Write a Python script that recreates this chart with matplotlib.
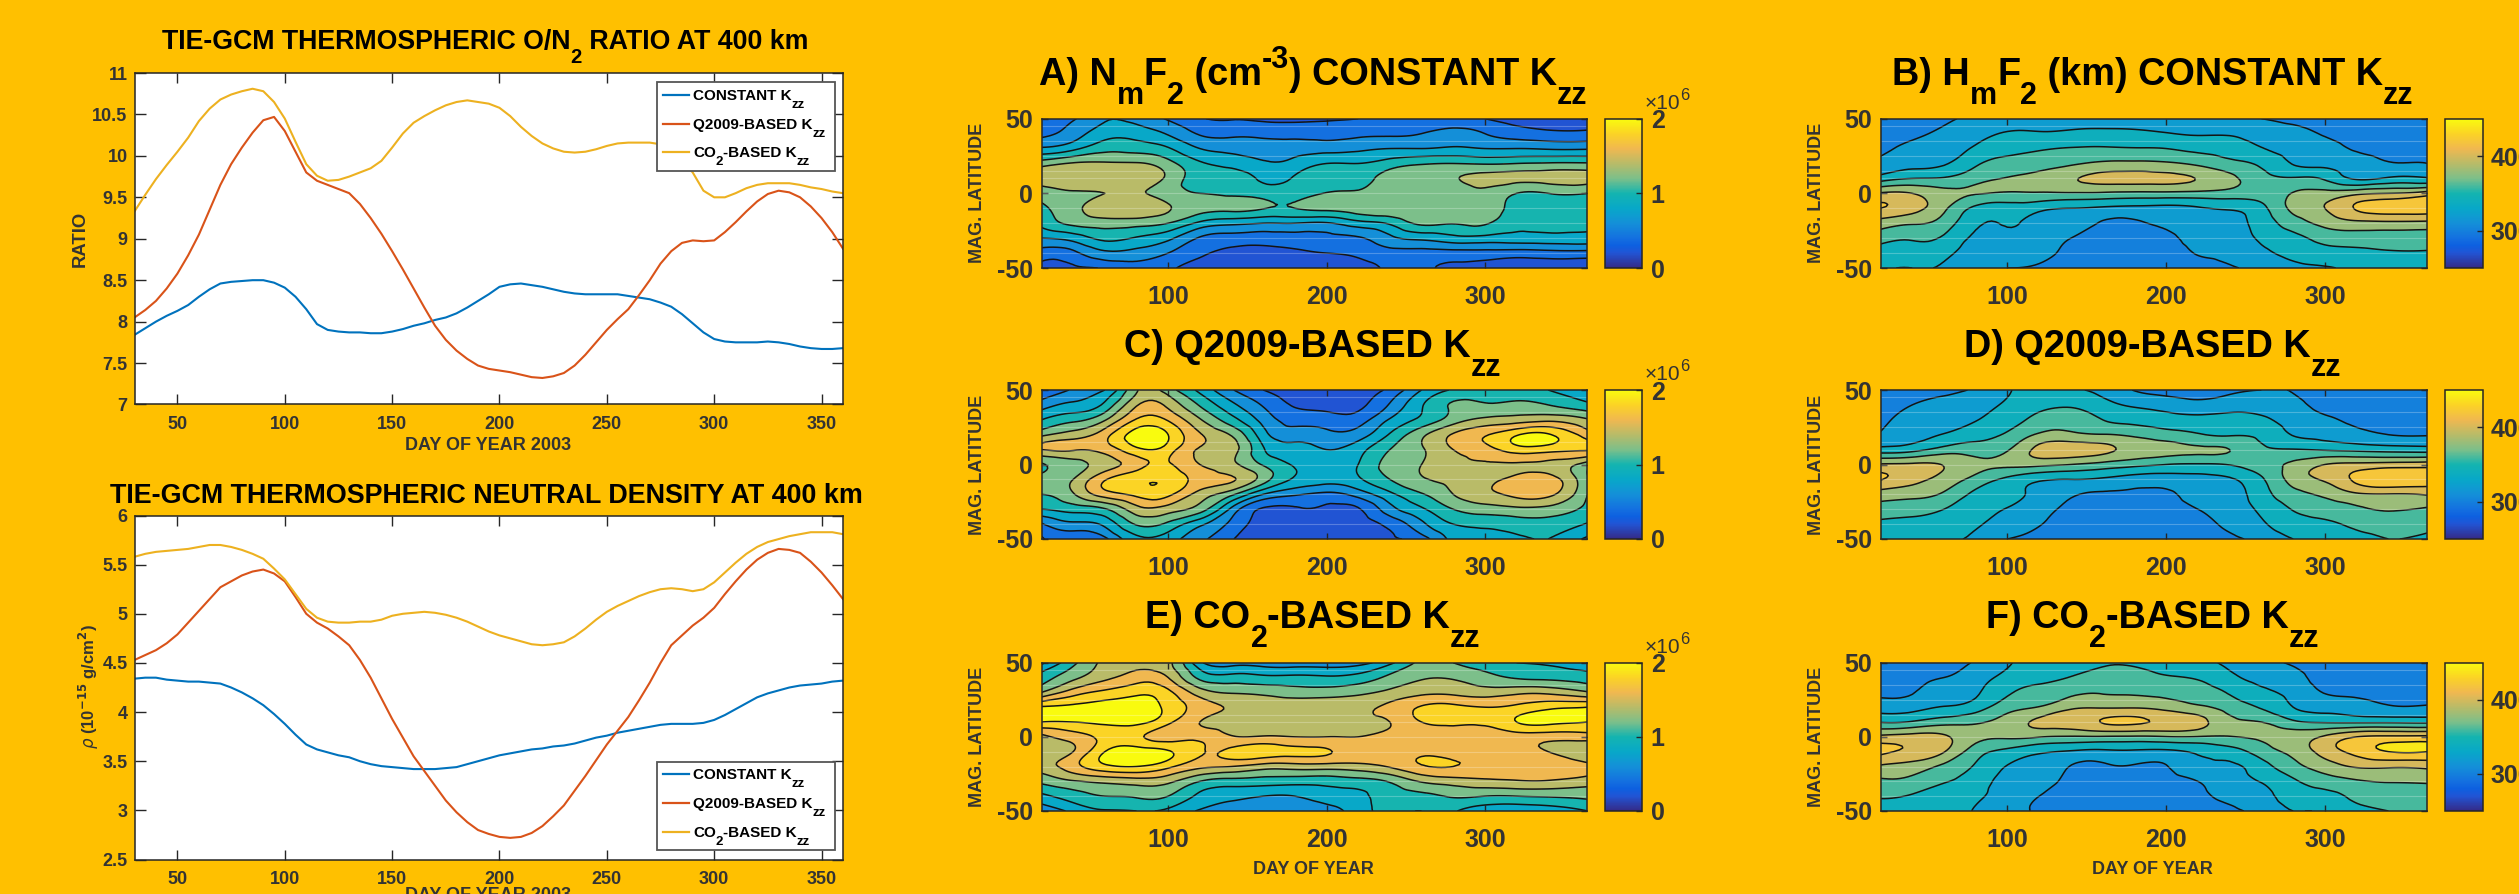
import numpy as np
import matplotlib
matplotlib.use("Agg")
import matplotlib.pyplot as plt
from matplotlib.colors import LinearSegmentedColormap, Normalize
from matplotlib.cm import ScalarMappable
from matplotlib.lines import Line2D
from matplotlib.patches import Rectangle
from matplotlib.transforms import IdentityTransform
from matplotlib.tri import Triangulation, UniformTriRefiner

W, H = 2519, 894
BG = "#FFC000"
INK = "#333333"
FONT = ["Liberation Sans", "DejaVu Sans"]

# ------- line data -------
line_days = [30,35,40,45,50,55,60,65,70,75,80,85,90,95,100,105,110,115,120,125,130,135,140,145,150,155,160,165,170,175,180,185,190,195,200,205,210,215,220,225,230,235,240,245,250,255,260,265,270,275,280,285,290,295,300,305,310,315,320,325,330,335,340,345,350,355,360]
on2_constant = [7.84,7.92,8.0,8.07,8.13,8.2,8.3,8.39,8.46,8.48,8.49,8.5,8.5,8.47,8.41,8.3,8.15,7.97,7.9,7.88,7.87,7.87,7.86,7.86,7.88,7.91,7.95,7.98,8.02,8.05,8.1,8.17,8.25,8.33,8.42,8.45,8.46,8.44,8.42,8.39,8.36,8.34,8.33,8.33,8.33,8.33,8.31,8.29,8.27,8.23,8.18,8.09,7.98,7.87,7.79,7.76,7.75,7.75,7.75,7.76,7.75,7.73,7.7,7.68,7.67,7.67,7.68]
on2_q2009 = [8.05,8.14,8.25,8.4,8.58,8.8,9.05,9.35,9.65,9.9,10.1,10.28,10.43,10.47,10.3,10.05,9.8,9.7,9.65,9.6,9.55,9.42,9.25,9.06,8.85,8.63,8.4,8.17,7.95,7.78,7.65,7.55,7.47,7.43,7.41,7.39,7.36,7.33,7.32,7.34,7.38,7.47,7.6,7.75,7.9,8.03,8.15,8.32,8.5,8.7,8.85,8.95,8.98,8.97,8.98,9.08,9.2,9.33,9.45,9.54,9.58,9.56,9.5,9.39,9.25,9.08,8.88]
on2_co2 = [9.33,9.53,9.72,9.89,10.05,10.22,10.42,10.57,10.68,10.74,10.78,10.81,10.78,10.65,10.45,10.17,9.9,9.76,9.7,9.71,9.75,9.8,9.85,9.94,10.1,10.27,10.4,10.48,10.55,10.61,10.65,10.67,10.65,10.63,10.58,10.48,10.35,10.24,10.15,10.09,10.05,10.04,10.05,10.08,10.12,10.15,10.16,10.16,10.16,10.14,10.08,9.95,9.8,9.58,9.5,9.5,9.55,9.61,9.65,9.67,9.67,9.67,9.65,9.62,9.6,9.57,9.55]
rho_constant = [4.34,4.35,4.35,4.33,4.32,4.31,4.31,4.3,4.29,4.25,4.2,4.14,4.07,3.98,3.88,3.77,3.67,3.62,3.59,3.56,3.54,3.5,3.47,3.45,3.44,3.43,3.42,3.42,3.42,3.43,3.44,3.47,3.5,3.53,3.56,3.58,3.6,3.62,3.63,3.65,3.66,3.68,3.71,3.74,3.76,3.79,3.81,3.83,3.85,3.87,3.88,3.88,3.88,3.89,3.92,3.97,4.03,4.09,4.15,4.19,4.22,4.25,4.27,4.28,4.29,4.31,4.32]
rho_q2009 = [4.53,4.58,4.63,4.7,4.79,4.91,5.03,5.15,5.27,5.33,5.39,5.43,5.45,5.41,5.33,5.17,5.0,4.91,4.85,4.77,4.68,4.53,4.35,4.14,3.93,3.74,3.55,3.4,3.25,3.1,2.98,2.88,2.8,2.76,2.73,2.72,2.73,2.77,2.84,2.94,3.05,3.2,3.35,3.51,3.67,3.81,3.95,4.12,4.3,4.5,4.68,4.78,4.88,4.96,5.06,5.2,5.33,5.45,5.55,5.62,5.66,5.65,5.62,5.53,5.42,5.29,5.15]
rho_co2 = [5.58,5.61,5.63,5.64,5.65,5.66,5.68,5.7,5.7,5.68,5.65,5.61,5.56,5.46,5.35,5.2,5.05,4.96,4.92,4.91,4.91,4.92,4.92,4.94,4.98,5.0,5.01,5.02,5.01,4.99,4.96,4.92,4.87,4.82,4.78,4.75,4.72,4.69,4.68,4.69,4.71,4.77,4.85,4.94,5.02,5.08,5.13,5.18,5.22,5.25,5.26,5.25,5.23,5.25,5.32,5.42,5.52,5.61,5.68,5.73,5.76,5.79,5.81,5.83,5.83,5.83,5.81]

# ------- contour grids: one row per day, values from lat 50 down to lat -50 -------
grid_days = [20,40,60,80,100,120,140,160,180,200,220,240,260,280,300,320,340,365]
grid_lats = [50,40,30,20,10,0,-10,-20,-30,-40,-50]

nmf2_constant = [
 [.45,.55,.83,1.31,1.5,1.3,1.15,1.05,.8,.5,.35],
 [.58,.7,.95,1.42,1.55,1.38,1.35,1.25,.88,.55,.37],
 [.78,.92,1.13,1.43,1.55,1.40,1.5,1.3,1.05,.75,.42],
 [.72,.92,1.12,1.42,1.55,1.42,1.55,1.28,.98,.72,.55],
 [.58,.78,1.02,1.27,1.35,1.3,1.42,1.2,.85,.6,.45],
 [.42,.58,.8,1.03,1.12,1.2,1.27,.95,.58,.44,.28],
 [.39,.55,.74,.93,1.1,1.17,1.25,.85,.52,.33,.27],
 [.36,.55,.7,.83,.97,1.12,1.21,.8,.5,.31,.24],
 [.36,.53,.72,.87,1.02,1.1,1.2,.8,.53,.35,.25],
 [.38,.52,.72,1.0,1.12,1.21,1.25,.78,.55,.4,.27],
 [.40,.56,.75,1.0,1.13,1.23,1.3,.92,.58,.44,.33],
 [.44,.57,.8,1.1,1.27,1.3,1.35,1.03,.75,.52,.42],
 [.46,.6,.8,1.18,1.3,1.32,1.35,1.24,.85,.52,.42],
 [.45,.67,.83,1.2,1.38,1.33,1.32,1.21,.93,.52,.38],
 [.40,.6,.8,1.18,1.45,1.35,1.3,1.22,.93,.52,.35],
 [.33,.5,.8,1.2,1.45,1.2,1.13,1.05,.92,.5,.32],
 [.3,.45,.78,1.22,1.47,1.2,1.12,1.05,.93,.52,.32],
 [.31,.45,.78,1.22,1.47,1.2,1.12,1.05,.93,.52,.32],
]
nmf2_q2009 = [
 [.45,.7,1.0,1.35,1.6,1.18,1.25,1.2,1.0,.58,.38],
 [.62,.85,1.15,1.5,1.62,1.32,1.4,1.38,1.08,.75,.45],
 [.8,1.05,1.38,1.72,1.68,1.5,1.78,1.7,1.18,.85,.55],
 [1.38,1.58,1.82,2.1,1.95,1.72,1.95,1.85,1.52,1.22,.95],
 [1.3,1.55,1.78,2.0,1.9,1.82,1.95,1.85,1.5,1.15,.9],
 [.95,1.18,1.42,1.62,1.58,1.6,1.72,1.52,1.3,.85,.65],
 [.62,.85,1.08,1.38,1.48,1.45,1.62,1.25,.75,.55,.42],
 [.4,.58,.73,.88,1.02,1.18,1.3,.8,.38,.3,.25],
 [.3,.38,.53,.7,.87,.98,.97,.63,.38,.31,.26],
 [.27,.34,.49,.66,.8,.9,.88,.55,.36,.3,.26],
 [.3,.36,.5,.7,.92,1.0,.97,.68,.38,.31,.27],
 [.45,.62,.82,1.02,1.2,1.28,1.2,.95,.72,.46,.38],
 [.8,.98,1.05,1.35,1.38,1.4,1.38,1.18,.97,.75,.5],
 [1.02,1.22,1.3,1.62,1.6,1.55,1.45,1.4,1.2,1.0,.85],
 [1.05,1.22,1.45,1.78,1.72,1.58,1.55,1.55,1.3,1.05,.9],
 [1.05,1.25,1.5,1.98,1.9,1.58,1.65,1.65,1.35,1.1,.95],
 [1.0,1.2,1.55,2.02,1.88,1.55,1.68,1.65,1.33,1.12,1.0],
 [.85,1.05,1.42,1.7,1.82,1.3,1.22,1.2,1.15,.98,.75],
]
nmf2_co2 = [
 [.75,1.1,1.4,2.02,2.0,1.55,1.45,1.5,1.25,.95,.65],
 [1.15,1.35,1.7,2.05,2.0,1.7,1.6,1.72,1.38,1.1,.85],
 [1.45,1.55,1.85,2.1,2.05,1.85,2.0,1.95,1.45,1.2,.98],
 [1.5,1.7,1.95,2.1,2.05,1.85,2.1,2.0,1.5,1.22,1.0],
 [1.45,1.6,1.85,1.95,1.85,1.7,2.02,1.85,1.45,1.2,.95],
 [.85,1.15,1.5,1.7,1.6,1.75,1.82,1.65,1.2,.95,.78],
 [.72,1.08,1.38,1.58,1.52,1.62,1.85,1.6,1.12,.85,.7],
 [.7,1.05,1.35,1.52,1.5,1.62,1.9,1.5,1.1,.8,.68],
 [.68,1.05,1.3,1.52,1.5,1.6,1.85,1.5,1.08,.8,.68],
 [.68,1.03,1.3,1.52,1.5,1.6,1.82,1.5,1.08,.88,.72],
 [.72,1.08,1.35,1.55,1.55,1.6,1.72,1.52,1.12,.95,.9],
 [.95,1.25,1.45,1.65,1.6,1.65,1.7,1.62,1.22,1.1,1.05],
 [1.25,1.38,1.55,1.82,1.8,1.65,1.75,1.78,1.42,1.15,1.0],
 [1.2,1.38,1.55,1.85,1.85,1.7,1.72,1.8,1.5,1.22,1.02],
 [1.05,1.28,1.5,1.8,1.85,1.65,1.7,1.75,1.55,1.2,.85],
 [1.0,1.18,1.55,1.85,2.0,1.7,1.68,1.7,1.58,1.2,.85],
 [.98,1.15,1.55,1.95,2.05,1.68,1.6,1.72,1.58,1.22,.88],
 [.85,1.1,1.42,2.0,2.0,1.7,1.45,1.65,1.5,1.25,1.0],
]
hmf2_constant = [
 [305,312,316,325,350,402,420,390,368,350,342],
 [309,316,325,334,360,400,408,382,362,351,340],
 [317,324,331,338,362,386,384,371,357,346,337],
 [323,332,343,357,373,381,355,343,336,329,324],
 [328,342,354,367,381,378,350,341,335,327,320],
 [332,342,358,372,386,378,345,335,331,325,318],
 [332,344,361,377,397,378,340,331,320,315,311],
 [333,345,362,384,405,377,337,318,313,310,308],
 [332,344,361,385,406,375,335,318,313,310,307],
 [331,341,360,383,405,375,334,323,315,311,308],
 [327,338,355,376,399,374,338,332,328,321,315],
 [321,338,351,366,385,372,342,336,331,325,318],
 [320,331,341,356,368,370,354,348,343,336,326],
 [316,326,333,339,362,381,385,370,354,345,336],
 [308,318,328,335,357,387,400,386,367,352,338],
 [304,310,317,329,337,395,422,394,370,355,345],
 [304,307,312,321,343,400,430,395,370,358,350],
 [304,307,312,320,342,410,432,394,370,358,352],
]
hmf2_q2009 = [
 [303,310,316,322,348,402,421,390,372,355,345],
 [311,320,327,334,353,403,408,386,368,353,344],
 [317,325,332,341,368,399,392,377,360,350,341],
 [322,330,339,352,370,386,373,355,348,343,336],
 [338,344,352,363,378,384,355,345,339,330,320],
 [344,354,366,383,406,385,343,334,328,321,315],
 [342,357,371,385,410,380,340,322,315,311,308],
 [335,347,360,381,405,373,337,318,313,309,306],
 [319,337,354,376,393,366,331,316,311,308,306],
 [313,331,349,369,387,360,331,316,312,309,306],
 [312,326,346,362,383,358,334,328,320,314,308],
 [316,331,346,358,380,361,338,333,329,324,317],
 [320,333,343,355,365,372,357,351,344,337,326],
 [319,326,332,339,361,384,387,373,361,351,340],
 [306,314,323,333,358,400,403,384,369,356,345],
 [305,310,316,326,355,405,425,397,377,365,351],
 [304,308,313,320,352,408,437,399,381,370,360],
 [304,308,313,319,350,410,431,402,378,366,355],
]
hmf2_co2 = [
 [304,310,316,331,359,405,424,397,377,362,352],
 [312,318,319,333,362,408,416,391,374,358,349],
 [315,320,331,341,372,403,401,375,361,352,345],
 [322,331,338,350,377,386,369,358,352,345,338],
 [338,346,357,372,389,383,354,339,332,329,322],
 [346,354,366,381,404,381,343,334,329,320,318],
 [350,361,376,396,411,378,338,319,313,309,306],
 [358,368,379,398,421,378,336,317,312,308,305],
 [358,367,378,398,423,377,337,318,312,309,306],
 [353,362,375,393,417,379,336,319,313,310,307],
 [346,358,369,384,408,379,343,334,320,316,310],
 [335,345,358,372,386,379,351,336,331,324,318],
 [324,334,344,358,380,384,369,352,341,333,326],
 [318,327,334,340,364,390,386,373,357,348,340],
 [305,311,319,333,358,403,408,390,370,353,342],
 [304,309,315,329,357,420,427,402,378,365,354],
 [304,307,312,322,357,424,440,403,381,370,360],
 [304,307,312,322,356,425,440,405,382,372,365],
]

nm_levels = [-1,.2,.4,.6,.8,1.0,1.2,1.4,1.6,1.8,2.0,4.0]
hm_levels = [100,300,320,340,360,380,400,420,440,700]
seam_lats = [45,35,25,15,10,0,-10,-20,-30,-40]

cmap = LinearSegmentedColormap.from_list("warm_parula", [
    (0.0,"#352a87"),(0.1,"#2155d5"),(0.15,"#0d60e0"),(0.2,"#1470e0"),(0.3,"#1490d8"),
    (0.4,"#08a8c8"),(0.5,"#14b4b0"),(0.6,"#7cbf8a"),(0.7,"#b8bb68"),(0.8,"#f0b850"),
    (0.9,"#fbd325"),(1.0,"#f9fb0e")])

plt.rcParams["font.family"] = FONT
plt.rcParams["axes.unicode_minus"] = False
fig = plt.figure(figsize=(W/100, H/100), dpi=100, facecolor=BG)
renderer = fig.canvas.get_renderer()
ID = IdentityTransform()

def axes_px(x0, y0, x1, y1):
    return fig.add_axes([x0/W, 1-y1/H, (x1-x0)/W, (y1-y0)/H])

def text_w(s, size, weight):
    a = fig.text(0, 0, "|"+s+"|", fontsize=size, weight=weight)
    b = fig.text(0, 0, "||", fontsize=size, weight=weight)
    w = a.get_window_extent(renderer).width - b.get_window_extent(renderer).width
    a.remove(); b.remove()
    return w

def seq_text(x, y, segs, size, sub, dsub, dsup=0, color="black", align="center", weight="bold"):
    widths = [text_w(s, sub if k else size, weight) for s, k in segs]
    cur = x - sum(widths)/2 if align == "center" else x
    for (s, k), w in zip(segs, widths):
        off = {0: 0, -1: dsub, 1: dsup}[k]
        fig.text(cur, H-(y-off), s, transform=ID, fontsize=sub if k else size,
                 weight=weight, color=color, ha="left", va="baseline", zorder=6)
        cur += w

def style_axes(ax, size, xlen, ylen, xpad, ypad):
    for s in ax.spines.values():
        s.set_color("#262626"); s.set_linewidth(1.1)
    ax.tick_params(direction="in", top=True, right=True, labelsize=size, colors="#262626", labelcolor=INK, width=1,
                   pad=xpad, axis="x", length=xlen)
    ax.tick_params(direction="in", top=True, right=True, labelsize=size, colors="#262626", labelcolor=INK, width=1,
                   pad=ypad, axis="y", length=ylen)
    for lab in ax.get_xticklabels()+ax.get_yticklabels():
        lab.set_fontweight("bold")

# ------- line panels -------
LINE_COLORS = ["#0072BD", "#D95319", "#EDB120"]
def legend_box(x0, y0, x1, y1, ys):
    fig.add_artist(Rectangle((x0, H-y1), x1-x0, y1-y0, transform=ID, fc="white", ec="#555555", lw=1.3, zorder=5))
    entries = [[("CONSTANT K",0),("zz",-1)], [("Q2009-BASED K",0),("zz",-1)], [("CO",0),("2",-1),("-BASED K",0),("zz",-1)]]
    for yc, c, segs in zip(ys, LINE_COLORS, entries):
        fig.add_artist(Line2D([x0+6, x0+32], [H-yc, H-yc], transform=ID, color=c, lw=1.6, zorder=6))
        seq_text(x0+36, yc+5, segs, 11, 9.5, -8, align="left")

def line_panel(y0, y1, series, ylim, yticks, yticklabels):
    ax = axes_px(134.5, y0, 843, y1)
    for v, c in zip(series, LINE_COLORS):
        ax.plot(line_days, v, color=c, lw=1.5)
    ax.set_xlim(30, 360); ax.set_ylim(*ylim)
    ax.set_xticks([50,100,150,200,250,300,350]); ax.set_yticks(yticks); ax.set_yticklabels(yticklabels)
    style_axes(ax, 13, 7, 8, 8.5, 5)
    return ax

line_panel(73, 404.5, [on2_constant, on2_q2009, on2_co2], (7,11),
           [7,7.5,8,8.5,9,9.5,10,10.5,11], ["7","7.5","8","8.5","9","9.5","10","10.5","11"])
line_panel(515.5, 859.5, [rho_constant, rho_q2009, rho_co2], (2.5,6),
           [2.5,3,3.5,4,4.5,5,5.5,6], ["2.5","3","3.5","4","4.5","5","5.5","6"])
legend_box(657, 82, 835, 171, [95, 124, 152])
legend_box(657, 762, 835, 850, [774, 803, 832])

seq_text(485, 49, [("TIE-GCM THERMOSPHERIC O/N",0),("2",-1),(" RATIO AT 400 km",0)], 19.3, 14.5, -14)
seq_text(486, 503, [("TIE-GCM THERMOSPHERIC NEUTRAL DENSITY AT 400 km",0)], 19.4, 14, -14)
fig.text(80, H-239, "RATIO", transform=ID, rotation=90, ha="center", va="center", fontsize=13.3,
         weight="bold", color=INK)
fig.text(89, H-687, r"$\rho$ (10$^{\mathbf{-15}}$ g/cm$^{\mathbf{2}}$)", transform=ID, rotation=90, ha="center",
         va="center", fontsize=12, weight="bold", color=INK)
for yy in (445, 896):
    fig.text(488, H-yy, "DAY OF YEAR 2003", transform=ID, ha="center", va="center", fontsize=13, weight="bold", color=INK)

# ------- contour panels -------
nx, ny = len(grid_days), len(grid_lats)
X, Y = np.meshgrid(grid_days, grid_lats, indexing="ij")
tris = []
for i in range(nx-1):
    for j in range(ny-1):
        a, b, c, d = i*ny+j, i*ny+j+1, (i+1)*ny+j, (i+1)*ny+j+1
        tris += [[a, b, c], [b, d, c]]
tri_base = Triangulation(X.ravel(), Y.ravel(), np.array(tris))
refiner = UniformTriRefiner(tri_base)

def contour_panel(x0, x1, cx0, cx1, y0, y1, zgrid, levels, norm, cticks, clabels, xmax, sci):
    ax = axes_px(x0, y0, x1, y1)
    Z = np.array(zgrid, dtype=float).ravel()
    fine, zf = refiner.refine_field(Z, subdiv=3)
    cols = [cmap(norm(l)) for l in levels[:-1]]
    ax.tricontourf(fine, zf, levels=levels, colors=cols)
    ax.tricontour(fine, zf, levels=levels[1:-1], colors="#141414", linewidths=1.1)
    for lat in seam_lats:
        ax.axhline(lat, color="white", alpha=0.25, lw=0.8)
    ax.set_xlim(20, xmax); ax.set_ylim(-50, 50)
    ax.set_xticks([100,200,300]); ax.set_yticks([-50,0,50])
    style_axes(ax, 18, 4, 4, 12, 6)
    cax = axes_px(cx0, y0, cx1, y1)
    cb = fig.colorbar(ScalarMappable(norm=norm, cmap=cmap), cax=cax)
    cb.set_ticks(cticks); cb.set_ticklabels(clabels)
    cax.tick_params(direction="in", length=4, width=1, labelsize=18, colors="#262626", labelcolor=INK, pad=6)
    for lab in cax.get_yticklabels():
        lab.set_fontweight("bold")
    cb.outline.set_edgecolor("#262626"); cb.outline.set_linewidth(1.1)
    if sci:
        seq_text(cx1+2, y0-10, [("\u00d710",0),("6",1)], 15, 12, -10, 9, color=INK, align="left", weight="normal")
    fig.text(x0-64, H-(y0+y1)/2, "MAG. LATITUDE", transform=ID, rotation=90, ha="center",
             va="center", fontsize=13, weight="bold", color=INK)

ROWS = [(118.7, 268), (390, 539), (662.7, 811)]
LX = (1041.5, 1587, 1605, 1642.5)
RX = (1880.5, 2426.5, 2444.5, 2482.5)
nm_norm = Normalize(0, 2)
hm_norm = Normalize(250, 450)
for (y0, y1), g in zip(ROWS, [nmf2_constant, nmf2_q2009, nmf2_co2]):
    contour_panel(LX[0], LX[1], LX[2], LX[3], y0, y1, g, nm_levels, nm_norm, [0,1,2], ["0","1","2"], 364.5, True)
for (y0, y1), g in zip(ROWS, [hmf2_constant, hmf2_q2009, hmf2_co2]):
    contour_panel(RX[0], RX[1], RX[2], RX[3], y0, y1, g, hm_levels, hm_norm, [300,400], ["300","400"], 364, False)

TS, SS = 27.3, 22
seq_text(1313, 85, [("A) N",0),("m",-1),("F",0),("2",-1),(" (cm",0),("-3",1),(") CONSTANT K",0),("zz",-1)], TS, SS, -19, 17)
seq_text(1313, 357, [("C) Q2009-BASED K",0),("zz",-1)], TS, SS, -19)
seq_text(1313, 628, [("E) CO",0),("2",-1),("-BASED K",0),("zz",-1)], TS, SS, -19)
seq_text(2153, 85, [("B) H",0),("m",-1),("F",0),("2",-1),(" (km) CONSTANT K",0),("zz",-1)], TS, SS, -19)
seq_text(2153, 357, [("D) Q2009-BASED K",0),("zz",-1)], TS, SS, -19)
seq_text(2153, 628, [("F) CO",0),("2",-1),("-BASED K",0),("zz",-1)], TS, SS, -19)
fig.text(1313, H-869, "DAY OF YEAR", transform=ID, ha="center", va="center", fontsize=13, weight="bold", color=INK)
fig.text(2152, H-869, "DAY OF YEAR", transform=ID, ha="center", va="center", fontsize=13, weight="bold", color=INK)

fig.savefig("out.png", dpi=100, facecolor=BG)
